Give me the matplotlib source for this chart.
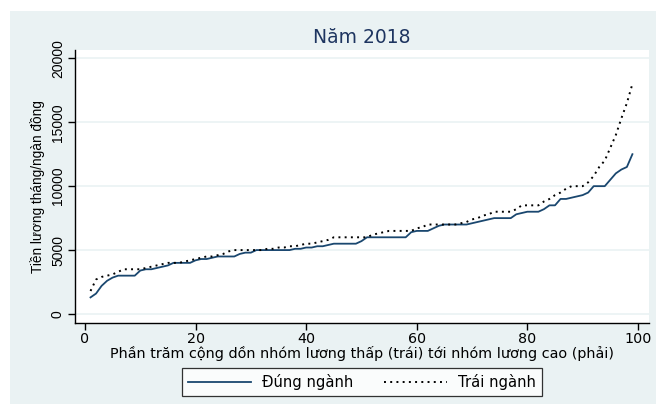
import numpy as np
import matplotlib
matplotlib.use("Agg")
import matplotlib.pyplot as plt
from matplotlib.patches import Rectangle

# the source graph is stretched sideways, so the wider DejaVu Sans is used
# for horizontal text and Liberation Sans for the rotated y-axis text
plt.rcParams['font.family'] = ['DejaVu Sans']
narrow = ['Liberation Sans', 'DejaVu Sans']

# percentiles 1..99
pct = list(range(1, 100))

dung_nganh = [1300, 1600, 2200, 2600, 2850, 3000, 3000, 3000, 3000, 3400,
              3500, 3500, 3600, 3700, 3800, 4000, 4000, 4000, 4000, 4200,
              4300, 4300, 4400, 4500, 4500, 4500, 4500, 4700, 4800, 4800,
              5000, 5000, 5000, 5000, 5000, 5000, 5000, 5100, 5100, 5200,
              5200, 5300, 5300, 5400, 5500, 5500, 5500, 5500, 5500, 5700,
              6000, 6000, 6000, 6000, 6000, 6000, 6000, 6000, 6400, 6500,
              6500, 6500, 6700, 6900, 7000, 7000, 7000, 7000, 7000, 7100,
              7200, 7300, 7400, 7500, 7500, 7500, 7500, 7800, 7900, 8000,
              8000, 8000, 8200, 8500, 8500, 9000, 9000, 9100, 9200, 9300,
              9500, 10000, 10000, 10000, 10500, 11000, 11300, 11500, 12500]

trai_nganh = [1800, 2700, 2900, 3000, 3100, 3300, 3500, 3500, 3500, 3500,
              3600, 3700, 3800, 3900, 4000, 4000, 4000, 4100, 4200, 4300,
              4400, 4500, 4500, 4600, 4700, 4900, 5000, 5000, 5000, 5000,
              5000, 5000, 5100, 5100, 5200, 5200, 5300, 5300, 5400, 5500,
              5500, 5600, 5700, 5800, 6000, 6000, 6000, 6000, 6000, 6000,
              6000, 6200, 6300, 6400, 6500, 6500, 6500, 6500, 6500, 6700,
              6800, 7000, 7000, 7000, 7000, 7000, 7000, 7100, 7200, 7400,
              7500, 7700, 7800, 8000, 8000, 8000, 8000, 8200, 8500, 8500,
              8500, 8500, 8800, 9000, 9300, 9500, 9800, 10000, 10000, 10000,
              10300, 10800, 11500, 12000, 13000, 14000, 15300, 16500, 18000]

x_ticks = [0, 20, 40, 60, 80, 100]
y_ticks = [0, 5000, 10000, 15000, 20000]

bg = '#EAF2F3'
navy = '#1A476F'

W, H = 656, 405
fig = plt.figure(figsize=(W / 100, H / 100), dpi=100)
fig.patch.set_facecolor('white')
fig.add_artist(Rectangle((10 / W, 1 / H), 1 - 10 / W, (404 - 11) / H,
                         transform=fig.transFigure, facecolor=bg,
                         edgecolor='none', zorder=-10))

ax = fig.add_axes([74.7 / W, (H - 322.7) / H, (649 - 74.7) / W, (322.7 - 50) / H])
ax.set_facecolor('white')

ax.plot(pct, dung_nganh, color=navy, lw=1.3, label='Đúng ngành')
ax.plot(pct, trai_nganh, color='black', lw=1.4, ls=(0, (1, 2.2)), label='Trái ngành')

ax.set_xlim(-1.86, 102)
ax.set_ylim(-680, 20650)
ax.set_xticks(x_ticks)
ax.set_yticks(y_ticks)
ax.grid(axis='y', color=bg, lw=1.2)
ax.set_axisbelow(True)

for s in ['top', 'right']:
    ax.spines[s].set_visible(False)
for s in ['left', 'bottom']:
    ax.spines[s].set_color('black')
    ax.spines[s].set_linewidth(1.0)

ax.tick_params(axis='both', direction='out', length=5, width=1, labelsize=10.3, pad=2)
plt.setp(ax.get_yticklabels(), rotation=90, va='center', family=narrow, fontsize=10)

ax.set_ylabel('Tiền lương tháng/ngàn đồng', fontsize=9.8, family=narrow, labelpad=4)
ax.set_xlabel('Phần trăm cộng dồn nhóm lương thấp (trái) tới nhóm lương cao (phải)',
              fontsize=10.4, labelpad=0)
ax.set_title('Năm 2018', fontsize=13.5, color='#1E3560', pad=5)

leg = fig.legend(loc='center', bbox_to_anchor=(362 / W, (H - 382) / H), ncol=2,
                 prop={'size': 10.6}, frameon=True, fancybox=False,
                 handlelength=4.3, handletextpad=0.75, columnspacing=2.1,
                 borderpad=0.4, borderaxespad=0)
leg.get_frame().set_edgecolor('black')
leg.get_frame().set_facecolor('white')
leg.get_frame().set_linewidth(0.9)

fig.savefig('out.png', dpi=100, facecolor='white')
